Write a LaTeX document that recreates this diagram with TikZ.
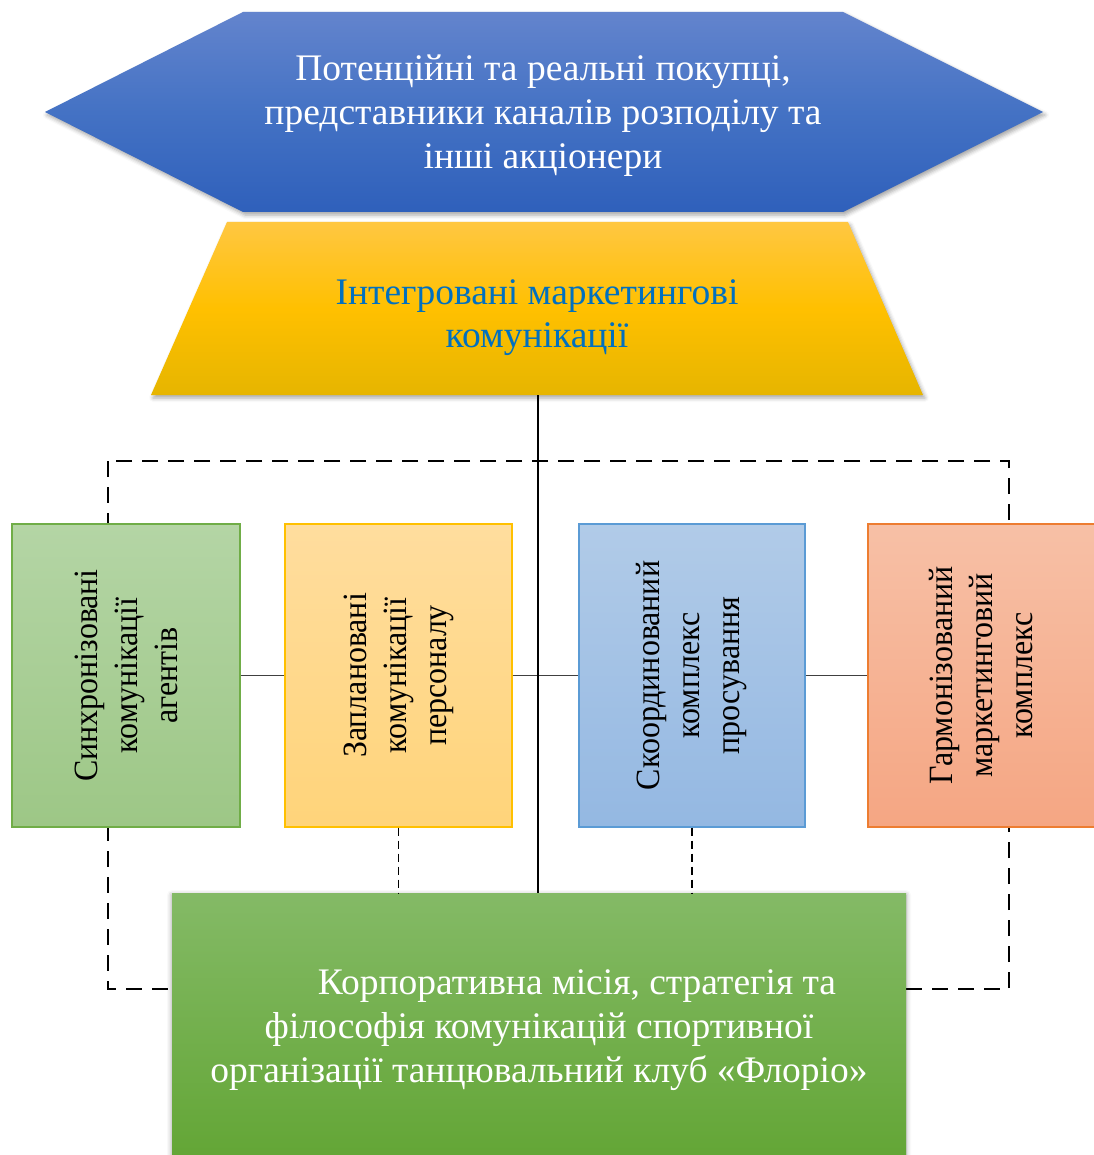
\documentclass[tikz,border=0pt]{standalone}
\usepackage{fontspec}
\setmainfont{Liberation Serif}
\newfontfamily\colfont[FakeStretch=0.94]{Liberation Serif}
\usetikzlibrary{shadows.blur}

% palette
\definecolor{hexTop}{RGB}{99,132,205}
\definecolor{hexMid}{RGB}{68,114,196}
\definecolor{hexBot}{RGB}{47,96,187}
\definecolor{goldTop}{RGB}{255,199,66}
\definecolor{goldMid}{RGB}{255,192,0}
\definecolor{goldBot}{RGB}{230,181,0}
\definecolor{trapText}{RGB}{0,112,192}
\definecolor{gTop}{RGB}{180,213,165}
\definecolor{gBot}{RGB}{157,199,134}
\definecolor{gLine}{RGB}{112,173,71}
\definecolor{yTop}{RGB}{255,221,158}
\definecolor{yBot}{RGB}{255,212,122}
\definecolor{yLine}{RGB}{255,192,0}
\definecolor{bTop}{RGB}{177,203,232}
\definecolor{bBot}{RGB}{148,184,226}
\definecolor{bLine}{RGB}{91,155,213}
\definecolor{sTop}{RGB}{247,192,166}
\definecolor{sBot}{RGB}{245,166,131}
\definecolor{sLine}{RGB}{237,125,49}
\definecolor{mTop}{RGB}{132,186,102}
\definecolor{mBot}{RGB}{98,165,52}

\tikzset{
  softshadow/.style={blur shadow={shadow xshift=2pt,shadow yshift=-3pt,
      shadow blur radius=4pt,shadow opacity=35}},
  colbox/.style={rectangle,inner sep=0pt,minimum width=227pt,minimum height=303pt,
      line width=1.2pt},
  vtext/.style={rotate=90,align=center,text=black,
      font=\colfont\fontsize{34}{40}\selectfont},
  bigtext/.style={align=center,font=\fontsize{37.5}{44}\selectfont},
  frame/.style={line width=2.4pt,dash pattern=on 16pt off 10pt},
  spine/.style={line width=2.2pt,black},
  link/.style={line width=1.4pt,black!75},
  drop/.style={line width=1.1pt,black,dash pattern=on 8pt off 5pt},
}

\begin{document}
\begin{tikzpicture}[x=1pt,y=-1pt]
\useasboundingbox (0,0) rectangle (1093,1155);

% dashed outer frame (partly hidden behind the boxes)
\coordinate (frTL) at (108,461);
\coordinate (frBR) at (1009,989);
\draw[frame] (frTL) rectangle (frBR);

% top hexagon
\shade[softshadow,top color=hexTop,bottom color=hexBot,middle color=hexMid]
  (45,112) -- (243,12) -- (843,12) -- (1043,112) -- (843,212) -- (243,212) -- cycle;
\node[bigtext,text=white] (hexText) at (543,116)
  {Потенційні та реальні покупці,\\представники каналів розподілу та\\інші акціонери};

% trapezium
\shade[softshadow,top color=goldTop,bottom color=goldBot,middle color=goldMid]
  (227,222) -- (848,222) -- (923,395) -- (151,395) -- cycle;
\node[bigtext,text=trapText,font=\fontsize{37.5}{43}\selectfont] (trapText) at (537,318)
  {Інтегровані маркетингові\\комунікації};
\coordinate (trapBase) at (538,395);

% four columns
\node[colbox,draw=gLine,top color=gTop,bottom color=gBot,minimum width=228pt] (b1) at (126,675.5) {};
\node[colbox,draw=yLine,top color=yTop,bottom color=yBot] (b2) at (398.5,675.5) {};
\node[colbox,draw=bLine,top color=bTop,bottom color=bBot,minimum width=226pt] (b3) at (692,675.5) {};
\node[colbox,draw=sLine,top color=sTop,bottom color=sBot] (b4) at (981.5,675.5) {};

\node[vtext] (t1) at (b1) {Синхронізовані\\комунікації\\агентів};
\node[vtext] (t2) at (b2) {Заплановані\\комунікації\\персоналу};
\node[vtext] (t3) at (b3) {Скоординований\\комплекс\\просування};
\node[vtext] (t4) at (b4) {Гармонізований\\маркетинговий\\комплекс};

% horizontal links between the columns
\draw[link] (b1.east) -- (b2.west);
\draw[link] (b2.east) -- (b3.west);
\draw[link] (b3.east) -- (b4.west);

% bottom block
\node[bigtext,rectangle,inner sep=0pt,minimum width=734pt,minimum height=274pt,
      top color=mTop,bottom color=mBot,
      blur shadow={shadow xshift=0pt,shadow yshift=-2pt,shadow blur radius=5pt,shadow opacity=40},
      text=white] (main) at (539,1030)
  {\hspace*{76pt}Корпоративна місія, стратегія та\\філософія комунікацій спортивної\\організації танцювальний клуб «Флоріо»};

% central spine and dashed drops
\draw[spine] (trapBase) -- (trapBase |- main.north);
\draw[drop] (b2.south) -- (b2.south |- main.north);
\draw[drop] (b3.south) -- (b3.south |- main.north);
\end{tikzpicture}
\end{document}
